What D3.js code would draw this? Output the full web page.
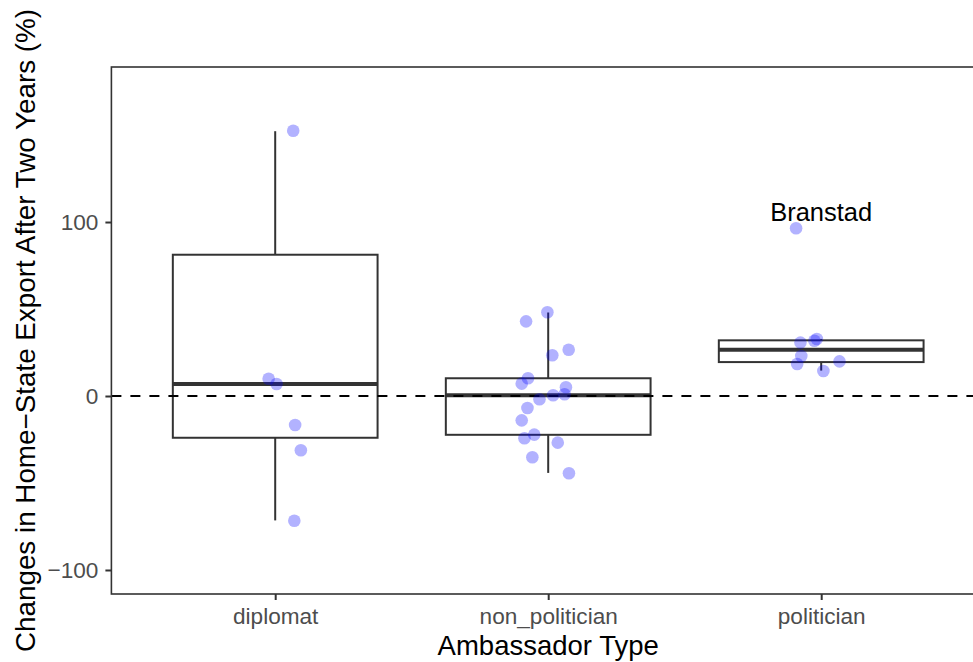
<!DOCTYPE html>
<html>
<head>
<meta charset="utf-8">
<script src="https://cdn.jsdelivr.net/npm/d3@7"></script>
<style>
  body { margin: 0; background: #fff; }
  text { font-family: 'Liberation Sans', Arial, sans-serif; }
</style>
</head>
<body>
<div></div>
<script>
const categories = ['diplomat', 'non_politician', 'politician'];

// box stats: [lower whisker, q1, median, q3, upper whisker]
const boxStats = [
  [-71.5, -24.0, 6.9, 81.2, 152.2],
  [-44.2, -22.3, 0.4, 10.2, 48.0],
  [14.6, 19.5, 26.6, 32.0, 32.8],
];

// jittered points: category index, horizontal jitter (in category units), value
const pointCat = [
  0, 0, 0, 0, 0, 0,
  1, 1, 1, 1, 1, 1, 1, 1, 1, 1, 1, 1, 1, 1, 1, 1, 1,
  2, 2, 2, 2, 2, 2, 2, 2,
];
const pointJitter = [
  0.066, -0.024, 0.005, 0.073, 0.094, 0.07,
  -0.081, -0.003, 0.015, 0.075, -0.074, -0.097, 0.065, 0.06, 0.018, -0.032,
  -0.076, -0.097, -0.051, -0.087, 0.035, -0.058, 0.076,
  -0.092, -0.076, -0.025, -0.016, -0.073, -0.088, 0.067, 0.008,
];
const pointValue = [
  152.5, 9.9, 6.9, -16.7, -31.2, -71.7,
  42.9, 48.1, 23.4, 26.6, 10.2, 7.1, 5.0, 1.0, 0.4, -1.9,
  -6.9, -14.0, -22.2, -24.3, -26.8, -35.2, -44.4,
  96.4, 30.7, 31.8, 32.8, 23.0, 18.4, 19.9, 14.4,
];

const labelText = 'Branstad';
const labelCat = 2;
const labelValue = 106;

const yTicks = [-100, 0, 100];

// dimensions of svg and panel
const w = 973;
const h = 662;
const padLeft = 111.4;
const padRight = 985;
const padTop = 67;
const padBottom = 594;

const xScale = d3.scaleLinear().domain([0.4, 3.6]).range([padLeft, padRight]);
const yScale = d3.scaleLinear().domain([-113.8, 189.1]).range([padBottom, padTop]);
const step = xScale(2) - xScale(1);
const boxW = 0.75 * step;

const svg = d3
  .select('body')
  .select('div')
  .append('svg')
  .attr('width', w)
  .attr('height', h);

const panel = svg.append('g');

// boxes
const boxes = panel
  .selectAll('g.box')
  .data(boxStats)
  .enter()
  .append('g')
  .attr('class', 'box');

boxes
  .append('line')
  .attr('x1', (d, i) => xScale(i + 1))
  .attr('x2', (d, i) => xScale(i + 1))
  .attr('y1', (d) => yScale(d[3]))
  .attr('y2', (d) => yScale(d[4]))
  .attr('stroke', '#333333')
  .attr('stroke-width', 2);

boxes
  .append('line')
  .attr('x1', (d, i) => xScale(i + 1))
  .attr('x2', (d, i) => xScale(i + 1))
  .attr('y1', (d) => yScale(d[0]))
  .attr('y2', (d) => yScale(d[1]))
  .attr('stroke', '#333333')
  .attr('stroke-width', 2);

boxes
  .append('rect')
  .attr('x', (d, i) => xScale(i + 1) - boxW / 2)
  .attr('width', boxW)
  .attr('y', (d) => yScale(d[3]))
  .attr('height', (d) => yScale(d[1]) - yScale(d[3]))
  .attr('fill', '#fff')
  .attr('stroke', '#333333')
  .attr('stroke-width', 2);

boxes
  .append('line')
  .attr('x1', (d, i) => xScale(i + 1) - boxW / 2)
  .attr('x2', (d, i) => xScale(i + 1) + boxW / 2)
  .attr('y1', (d) => yScale(d[2]))
  .attr('y2', (d) => yScale(d[2]))
  .attr('stroke', '#333333')
  .attr('stroke-width', 4);

// reference line at zero
panel
  .append('line')
  .attr('x1', padLeft)
  .attr('x2', padRight)
  .attr('y1', yScale(0))
  .attr('y2', yScale(0))
  .attr('stroke', '#000')
  .attr('stroke-width', 2)
  .attr('stroke-dasharray', '10,9');

// points
panel
  .selectAll('circle')
  .data(pointValue)
  .enter()
  .append('circle')
  .attr('cx', (d, i) => xScale(pointCat[i] + 1 + pointJitter[i]))
  .attr('cy', (d) => yScale(d))
  .attr('r', 6.3)
  .attr('fill', 'rgba(0,0,255,0.3)');

panel
  .append('text')
  .attr('x', xScale(labelCat + 1))
  .attr('y', yScale(labelValue))
  .attr('dy', '0.35em')
  .attr('text-anchor', 'middle')
  .attr('font-size', 25.5)
  .attr('fill', '#000')
  .text(labelText);

// panel border
svg
  .append('rect')
  .attr('x', padLeft)
  .attr('y', padTop)
  .attr('width', padRight - padLeft)
  .attr('height', padBottom - padTop)
  .attr('fill', 'none')
  .attr('stroke', '#333333')
  .attr('stroke-width', 1.6);

// axes
const xAxis = d3
  .axisBottom(xScale)
  .tickValues([1, 2, 3])
  .tickFormat((d) => categories[d - 1])
  .tickSize(6)
  .tickPadding(8);

const yAxis = d3
  .axisLeft(yScale)
  .tickValues(yTicks)
  .tickFormat((d) => (d < 0 ? '\u2212' + Math.abs(d) : d))
  .tickSize(6)
  .tickPadding(7);

const gx = svg
  .append('g')
  .attr('transform', 'translate(0,' + padBottom + ')')
  .call(xAxis);

const gy = svg
  .append('g')
  .attr('transform', 'translate(' + padLeft + ',0)')
  .call(yAxis);

[gx, gy].forEach((g) => {
  g.select('.domain').remove();
  g.selectAll('.tick line').attr('stroke', '#333333').attr('stroke-width', 2);
  g.selectAll('.tick text')
    .attr('fill', '#4D4D4D')
    .attr('font-size', 22.6)
    .attr('font-family', "'Liberation Sans', Arial, sans-serif");
});

svg
  .append('text')
  .attr('x', (padLeft + padRight) / 2)
  .attr('y', 655)
  .attr('text-anchor', 'middle')
  .attr('font-size', 27.5)
  .attr('fill', '#000')
  .text('Ambassador Type');

svg
  .append('text')
  .attr('transform', 'translate(35,' + (padTop + padBottom) / 2 + ') rotate(-90)')
  .attr('text-anchor', 'middle')
  .attr('font-size', 27.8)
  .attr('fill', '#000')
  .text('Changes in Home\u2212State Export After Two Years (%)');
</script>
</body>
</html>
